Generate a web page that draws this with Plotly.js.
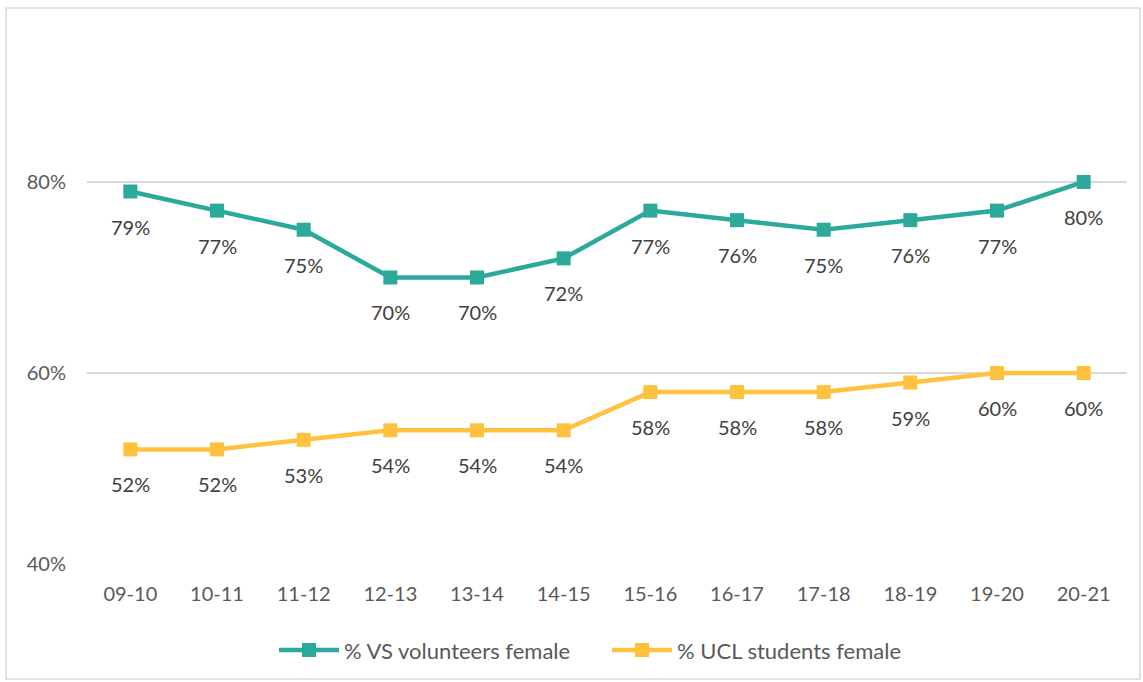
<!DOCTYPE html>
<html><head><meta charset="utf-8">
<script src="https://cdn.plot.ly/plotly-3.0.1.min.js"></script>
<style>html,body{margin:0;padding:0;background:#fff;}#chart{width:1143px;height:682px;}</style>
</head><body><div id="chart"></div>
<script>
const categories = ["09-10","10-11","11-12","12-13","13-14","14-15","15-16","16-17","17-18","18-19","19-20","20-21"];
const volunteersFemale = [0.79,0.77,0.75,0.70,0.70,0.72,0.77,0.76,0.75,0.76,0.77,0.80];
const studentsFemale = [0.52,0.52,0.53,0.54,0.54,0.54,0.58,0.58,0.58,0.59,0.60,0.60];
const seriesNames = ["% VS volunteers female","% UCL students female"];

const teal = "#2BA99B", yellow = "#FFC23E";
const font = "Lato, 'Open Sans', sans-serif";

function trace(y, name, color){
  return {x: categories, y: y, name: name, type: "scatter", mode: "lines+markers",
    line: {color: color, width: 4.5}, marker: {symbol: "square", size: 14, color: color}};
}
function labels(y){
  return y.map((v,i)=>({x: categories[i], y: v, xref:"x", yref:"y", text: Math.round(v*100)+"%",
    showarrow:false, yshift:-35, font:{family:font, size:20, color:"#404040"}}));
}
const layout = {
  width:1143, height:682,
  margin:{l:87, r:16, t:11, b:118},
  paper_bgcolor:"#fff", plot_bgcolor:"#fff",
  font:{family:font, size:20, color:"#595959"},
  xaxis:{type:"category", showgrid:false, zeroline:false, showline:false, ticks:"",
    tickfont:{family:font,size:20,color:"#595959"}, range:[-0.5, 11.5], ticklabelstandoff:16},
  yaxis:{range:[0.4, 0.979], dtick:0.2, tick0:0.4, tickformat:".0%", showgrid:true, gridcolor:"#d9d9d9",
    gridwidth:1.5, zeroline:false, showline:false, ticks:"", ticklen:0, ticklabelstandoff:20,
    tickfont:{family:font,size:20,color:"#595959"}},
  showlegend:true,
  legend:{orientation:"h", x:0.5, xanchor:"center", y:-0.118, yanchor:"top",
    font:{family:font,size:22,color:"#595959"}, traceorder:"normal", entrywidth:258, itemwidth:60},
  annotations: labels(volunteersFemale).concat(labels(studentsFemale)),
  shapes:[{type:"rect", xref:"paper", yref:"paper", x0:-0.0779, x1:1.0125, y0:-0.208, y1:1.0054,
    line:{color:"#d9d9d9", width:1.5}, fillcolor:"rgba(0,0,0,0)", layer:"below"}]
};
Plotly.newPlot("chart", [trace(volunteersFemale, seriesNames[0], teal), trace(studentsFemale, seriesNames[1], yellow)], layout, {displayModeBar:false});
</script></body></html>
